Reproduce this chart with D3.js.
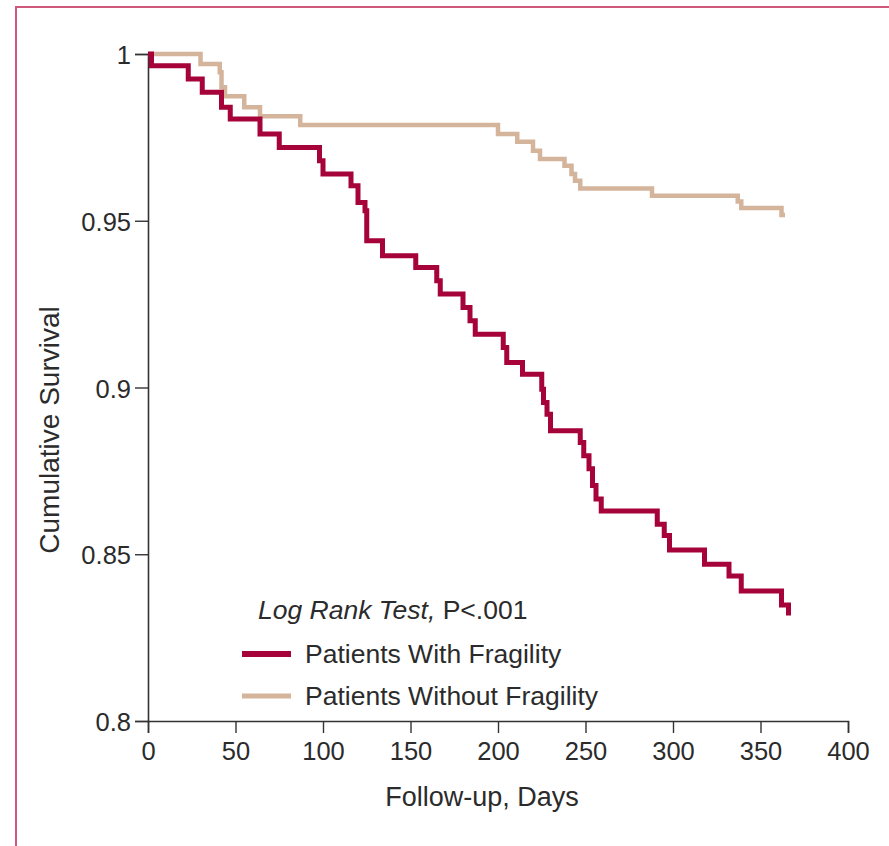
<!DOCTYPE html>
<html>
<head>
<meta charset="utf-8">
<script src="https://cdn.jsdelivr.net/npm/d3@7"></script>
<style>
  html, body { margin: 0; padding: 0; background: #fff; }
  svg { display: block; }
  text { font-family: "Liberation Sans", Arial, Helvetica, sans-serif; fill: #2b2b2b; }
</style>
</head>
<body>
<svg id="chart" width="889" height="846"></svg>
<script>
// ---- Data ----
const xTicks = [0, 50, 100, 150, 200, 250, 300, 350, 400];
const yTicks = [0.8, 0.85, 0.9, 0.95, 1];
const yTickLabels = ["0.8", "0.85", "0.9", "0.95", "1"];

// Patients With Fragility: event days and survival after each step
const fragDays = [0, 2, 23, 31, 42, 47, 64, 75, 98, 100, 116, 120, 124, 125, 134, 153, 165, 167, 180, 184, 187, 203, 205, 214, 225, 226, 228, 230, 247, 249, 252, 254, 256, 259, 291, 295, 298, 318, 332, 339, 362, 366];
const fragSurv = [1, 0.9965, 0.9925, 0.9885, 0.984, 0.9805, 0.976, 0.972, 0.968, 0.964, 0.9605, 0.9555, 0.953, 0.944, 0.9395, 0.936, 0.932, 0.928, 0.924, 0.920, 0.916, 0.912, 0.9075, 0.904, 0.8995, 0.8955, 0.892, 0.887, 0.8835, 0.8795, 0.8756, 0.8706, 0.8666, 0.863, 0.859, 0.8556, 0.8513, 0.847, 0.8435, 0.839, 0.8348, 0.8316];
const fragEnd = 366;

// Patients Without Fragility
const noFragDays = [0, 30, 41, 42, 44, 55, 64, 87, 200, 211, 220, 224, 238, 242, 244, 247, 288, 337, 339, 362];
const noFragSurv = [1, 0.997, 0.9945, 0.990, 0.9873, 0.984, 0.9813, 0.9787, 0.976, 0.9737, 0.971, 0.9685, 0.9665, 0.964, 0.962, 0.9597, 0.9575, 0.9558, 0.9538, 0.9517];
const noFragEnd = 364;

const seriesNames = ["Patients With Fragility", "Patients Without Fragility"];
const seriesColors = ["#a6033a", "#d5b49c"];

// ---- Layout ----
const svg = d3.select("#chart");
const x = d3.scaleLinear().domain([0, 400]).range([148, 848]);
const y = d3.scaleLinear().domain([0.8, 1]).range([721, 54]);

// frame
svg.append("path")
  .attr("d", "M16,846 V7 H889")
  .attr("fill", "none")
  .attr("stroke", "#d0587a")
  .attr("stroke-width", 2);

// axes
const xAxis = svg.append("g")
  .attr("transform", `translate(0,${y(0.8)})`)
  .call(d3.axisBottom(x).tickValues(xTicks).tickSize(12).tickPadding(9).tickFormat(d3.format("d")));
const yAxis = svg.append("g")
  .attr("transform", `translate(${x(0)},0)`)
  .call(d3.axisLeft(y).tickValues(yTicks).tickSize(13).tickPadding(4)
    .tickFormat((d, i) => yTickLabels[i]));

[xAxis, yAxis].forEach(g => {
  g.select(".domain").attr("stroke", "#333").attr("stroke-width", 1.6);
  g.selectAll(".tick line").attr("stroke", "#333").attr("stroke-width", 1.4);
  g.selectAll(".tick text")
    .attr("fill", "#2b2b2b")
    .style("font-size", "25.5px")
    .style("font-family", '"Liberation Sans", Arial, sans-serif');
});
yAxis.selectAll(".tick text").attr("dy", "0.38em");

// axis titles
svg.append("text")
  .attr("x", 482).attr("y", 806)
  .attr("text-anchor", "middle")
  .style("font-size", "27px")
  .text("Follow-up, Days");

svg.append("text")
  .attr("transform", "translate(59,430) rotate(-90)")
  .attr("text-anchor", "middle")
  .style("font-size", "28px")
  .text("Cumulative Survival");

// ---- curves ----
function stepData(days, surv, end) {
  const pts = days.map((d, i) => [d, surv[i]]);
  pts.push([end, surv[surv.length - 1]]);
  return pts;
}
const line = d3.line()
  .x(d => x(d[0]))
  .y(d => y(d[1]))
  .curve(d3.curveStepAfter);

const series = [
  stepData(noFragDays, noFragSurv, noFragEnd),
  stepData(fragDays, fragSurv, fragEnd)
];
const seriesColorOrder = [seriesColors[1], seriesColors[0]];

svg.append("g").selectAll("path")
  .data(series)
  .join("path")
  .attr("d", line)
  .attr("fill", "none")
  .attr("stroke", (d, i) => seriesColorOrder[i])
  .attr("stroke-width", (d, i) => i === 1 ? 5 : 4.5)
  .attr("stroke-linejoin", "miter")
  .attr("stroke-linecap", "butt");

// ---- legend ----
const lg = svg.append("g");
const lt = lg.append("text")
  .attr("x", 258).attr("y", 619)
  .style("font-size", "26.5px");
lt.append("tspan").style("font-style", "italic").text("Log Rank Test,");
lt.append("tspan").text(" P<.001");

seriesNames.forEach((name, i) => {
  const cy = 654 + i * 42;
  lg.append("line")
    .attr("x1", 242).attr("x2", 291)
    .attr("y1", cy).attr("y2", cy)
    .attr("stroke", seriesColors[i])
    .attr("stroke-width", i === 0 ? 6 : 5);
  lg.append("text")
    .attr("x", 305).attr("y", cy)
    .attr("dy", "0.35em")
    .style("font-size", "26.5px")
    .text(name);
});
</script>
</body>
</html>
